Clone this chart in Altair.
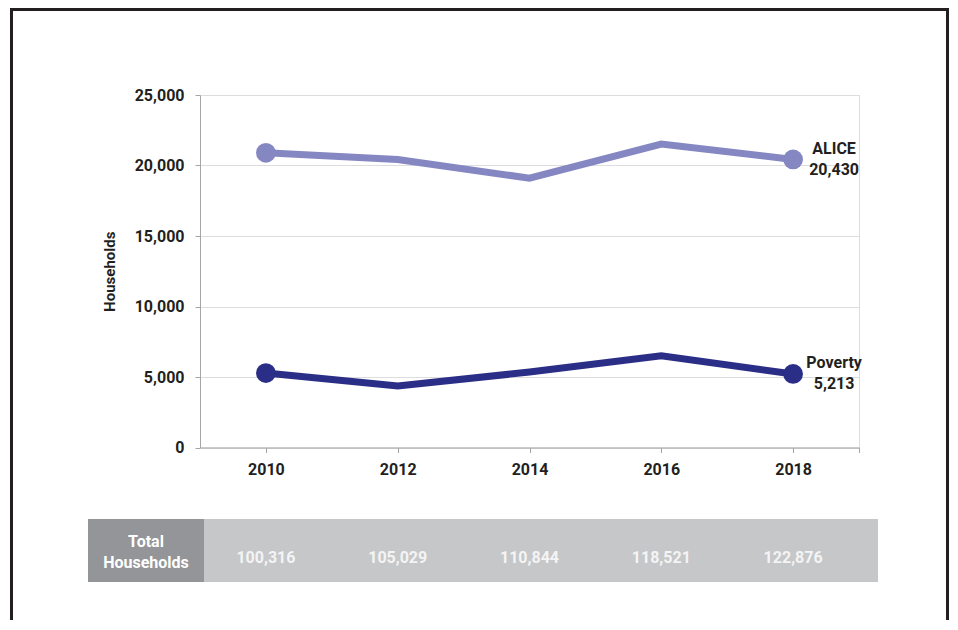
import altair as alt
import pandas as pd

years = [2010, 2012, 2014, 2016, 2018]
alice = [20900, 20420, 19100, 21520, 20430]
poverty = [5280, 4360, 5350, 6510, 5213]
totals = [100316, 105029, 110844, 118521, 122876]
series_names = ["ALICE", "Poverty"]
series_colors = ["#8587C2", "#2B2E87"]
y_ticks = [0, 5000, 10000, 15000, 20000, 25000]
table_label = "Total\nHouseholds"

FONT = "Roboto"
TXT = "#231F20"

rows = []
for yr, a, p in zip(years, alice, poverty):
    rows.append({"year": yr, "series": "ALICE", "value": a})
    rows.append({"year": yr, "series": "Poverty", "value": p})
df = pd.DataFrame(rows)

end_df = df[df["year"] == years[-1]].copy()
end_df["label"] = end_df["series"] + "\n" + end_df["value"].map(lambda v: f"{v:,}")

tot_df = pd.DataFrame({"year": years, "total": [f"{t:,}" for t in totals]})
one = pd.DataFrame({"a": [0]})

xscale = alt.Scale(domain=[2009, 2019], nice=False, zero=False)
yscale = alt.Scale(domain=[0, 25000], nice=False)
cscale = alt.Scale(domain=series_names, range=series_colors)

x_enc = alt.X(
    "year:Q", scale=xscale,
    axis=alt.Axis(
        values=years + [2019],
        labelExpr="datum.value == 2019 ? '' : '' + datum.value",
        title=None, grid=False, domainColor="#A6A6A6", tickColor="#A6A6A6",
        tickSize=5, labelFont=FONT, labelFontWeight="bold", labelFontSize=16,
        labelColor=TXT, labelPadding=9,
    ),
)
y_enc = alt.Y(
    "value:Q", scale=yscale,
    axis=alt.Axis(
        values=y_ticks, format=",d", title="Households",
        titleFont=FONT, titleFontWeight="bold", titleFontSize=15, titleColor=TXT,
        titlePadding=17,
        labelFont=FONT, labelFontWeight="bold", labelFontSize=16, labelColor=TXT,
        labelPadding=11, tickSize=5, tickColor="#A6A6A6", domainColor="#A6A6A6",
        gridColor="#DDDDDD", grid=True,
    ),
)

lines = alt.Chart(df).mark_line(strokeWidth=7).encode(
    x=x_enc, y=y_enc,
    color=alt.Color("series:N", scale=cscale, legend=None),
    detail="series:N",
)

points = alt.Chart(df).transform_filter(
    alt.FieldOneOfPredicate(field="year", oneOf=[years[0], years[-1]])
).mark_circle(size=390, opacity=1).encode(
    x=alt.X("year:Q", scale=xscale),
    y=alt.Y("value:Q", scale=yscale),
    color=alt.Color("series:N", scale=cscale, legend=None),
)

end_labels = alt.Chart(end_df).mark_text(
    font=FONT, fontWeight="bold", fontSize=16, color=TXT, align="center",
    baseline="middle", lineBreak="\n", lineHeight=21, dx=41, dy=-10.5,
).encode(
    x=alt.X("year:Q", scale=xscale),
    y=alt.Y("value:Q", scale=yscale),
    text="label:N",
)

label_cell = alt.Chart(one).mark_rect(color="#939598").encode(
    x=alt.value(-112), x2=alt.value(4), y=alt.value(424), y2=alt.value(487)
)
data_cell = alt.Chart(one).mark_rect(color="#C6C7C9").encode(
    x=alt.value(4), x2=alt.value(678), y=alt.value(424), y2=alt.value(487)
)
label_text = alt.Chart(one).mark_text(
    font=FONT, fontWeight="bold", fontSize=16, color="#FFFFFF", align="center",
    baseline="middle", lineBreak="\n", lineHeight=21.5,
).encode(x=alt.value(-54), y=alt.value(446.5), text=alt.value(table_label))

tot_text = alt.Chart(tot_df).mark_text(
    font=FONT, fontWeight="bold", fontSize=16, color="#F4F4F4", align="center",
    baseline="middle",
).encode(
    x=alt.X("year:Q", scale=xscale),
    y=alt.value(463),
    text="total:N",
)

border = alt.Chart(one).mark_rect(filled=False, stroke="#231F20", strokeWidth=3).encode(
    x=alt.value(-188.5), x2=alt.value(747.5), y=alt.value(-85.5), y2=alt.value(600)
)

chart = alt.layer(
    border, lines, points, end_labels, label_cell, data_cell, label_text, tot_text
).properties(
    width=659, height=352.5,
    autosize=alt.AutoSizeParams(type="none"),
    padding={"left": 192, "top": 87, "right": 91, "bottom": 172},
).configure_view(stroke=None).configure(background="white")

chart.save("out.html", embed_options={"renderer": "svg", "actions": False})
